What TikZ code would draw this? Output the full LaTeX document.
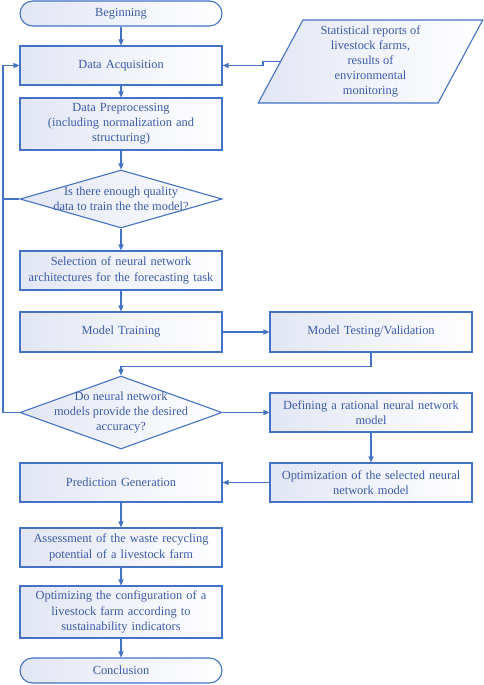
\documentclass[tikz,border=0pt]{standalone}
\usepackage{fontspec}
\setmainfont{Liberation Serif}
\usetikzlibrary{shapes.geometric,arrows.meta}
\definecolor{flowline}{RGB}{68,114,196}
\definecolor{flowtext}{RGB}{59,92,168}
\definecolor{flowfill}{RGB}{226,230,244}
\begin{document}
\begin{tikzpicture}[x=1pt,y=-1pt,font=\fontsize{12.4}{15.2}\selectfont]
            \tikzstyle{box}=[rectangle, draw=flowline, line width=1.1pt, left color=flowfill, right color=white, text=flowtext, align=center, text width=198pt, minimum width=202pt, inner sep=2pt]
            \tikzstyle{term}=[box, rounded corners=12.5pt, minimum height=25pt]
            \tikzstyle{decision}=[diamond, draw=flowline, line width=1.1pt, left color=flowfill, right color=white, inner sep=0pt, minimum width=202pt]
            \tikzstyle{dtext}=[text=flowtext, align=center, inner sep=0pt]
            \tikzstyle{arr}=[draw=flowline, line width=1.1pt, -{Triangle[length=6pt,width=5pt]}]
            \tikzstyle{plain}=[draw=flowline, line width=1.1pt]
            \useasboundingbox (0,0) rectangle (484,685);
            % left column
            \node[term] (begin) at (121,13.5) {Beginning};
            \node[box, minimum height=39pt] (acq) at (121,65.5) {Data Acquisition};
            \node[box, minimum height=52pt] (prep) at (121,124) {Data Preprocessing\\(including normalization and\\structuring)};
            \node[decision, minimum height=58pt] (d1) at (121,199) {};
            \node[dtext] at (d1) {Is there enough quality\\data to train the the model?};
            \node[box, minimum height=39pt] (sel) at (121,270.5) {Selection of neural network\\architectures for the forecasting task};
            \node[box, minimum height=40pt] (train) at (121,332) {Model Training};
            \node[decision, minimum height=73pt] (d2) at (121,412.5) {};
            \node[dtext] at (d2) {Do neural network\\models provide the desired\\accuracy?};
            \node[box, minimum height=39pt] (pred) at (121,482.5) {Prediction Generation};
            \node[box, minimum height=39pt] (assess) at (121,547.5) {Assessment of the waste recycling\\potential of a livestock farm};
            \node[box, minimum height=52pt] (optim) at (121,612) {Optimizing the configuration of a\\livestock farm according to\\sustainability indicators};
            \node[term] (concl) at (121,670.5) {Conclusion};
            % right column
            \node[trapezium, trapezium left angle=65.4, trapezium right angle=114.6, trapezium stretches=true, draw=flowline, line width=1.1pt, left color=flowfill, right color=white, text=flowtext, align=center, inner sep=0pt, minimum width=225pt, minimum height=83pt] (stats) at (370.5,61.5) {Statistical reports of\\livestock farms,\\results of\\environmental\\monitoring};
            \node[box, minimum height=40pt] (test) at (371,332) {Model Testing/Validation};
            \node[box, minimum height=39pt] (def) at (371,412.5) {Defining a rational neural network\\model};
            \node[box, minimum height=39pt] (opt) at (371,482.5) {Optimization of the selected neural\\network model};
            \coordinate (loop) at (3,412.5);
            % connectors
            \path [arr] (begin) -- (acq);
            \path [arr] (acq) -- (prep);
            \path [arr] (prep) -- (d1);
            \path [arr] (d1) -- (sel);
            \path [arr] (sel) -- (train);
            \path [arr] (train) -- (test);
            \path [arr] (test.south) -- ++(0,14) -| (d2.north);
            \path [arr] (d2) -- (def);
            \path [arr] (def) -- (opt);
            \path [arr] (opt) -- (pred);
            \path [arr] (pred) -- (assess);
            \path [arr] (assess) -- (optim);
            \path [arr] (optim) -- (concl);
            \path [arr] (stats.west) -- ++(-17,0) |- (acq.east);
            \path [arr] (d2.west) -- (loop) |- (acq.west);
            \path [plain] (d1.west) -- (d1.west -| loop);
        \end{tikzpicture}
\end{document}
